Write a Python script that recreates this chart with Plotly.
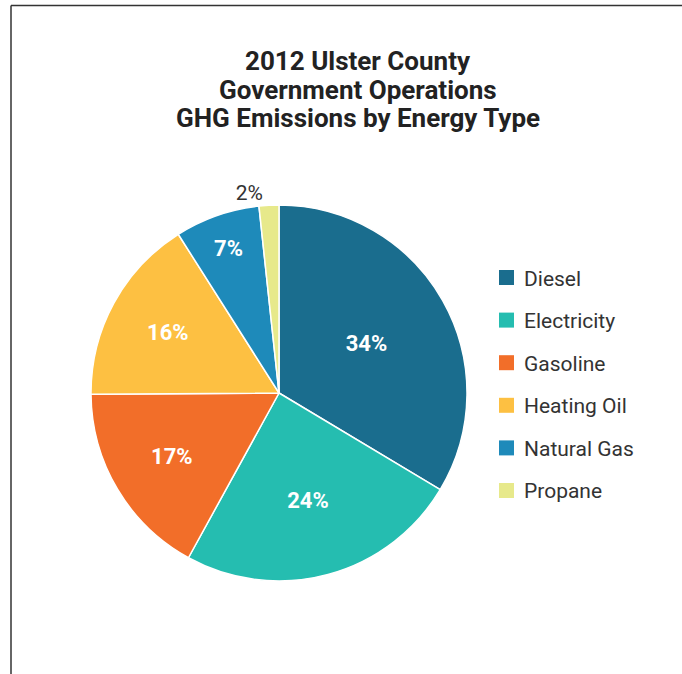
import plotly.graph_objects as go

W, H = 682, 674

labels = ["Diesel", "Electricity", "Gasoline", "Heating Oil", "Natural Gas", "Propane"]
values = [33.6, 24.4, 16.9, 16.1, 7.3, 1.7]
colors = ["#1a6d8e", "#25bdb0", "#f26e29", "#fdc042", "#1e8aba", "#e7e98b"]
text_pos = ["inside", "inside", "inside", "inside", "inside", "outside"]
title_lines = ["2012 Ulster County", "Government Operations", "GHG Emissions by Energy Type"]

FONT = "Roboto, 'DejaVu Sans', sans-serif"

# pie geometry in pixels
cx, cy, r = 279, 393, 188


def px(x):
    return x / W


def py(y):
    return 1 - y / H


fig = go.Figure()
fig.add_trace(go.Pie(
    labels=labels,
    values=values,
    sort=False,
    direction="clockwise",
    rotation=0,
    marker=dict(colors=colors, line=dict(color="white", width=1.5)),
    textinfo="percent",
    texttemplate="%{percent:.0%}",
    textposition=text_pos,
    insidetextorientation="horizontal",
    insidetextfont=dict(family=FONT, size=22, color="white", weight="bold"),
    outsidetextfont=dict(family=FONT, size=21, color="#333333"),
    hoverinfo="label+percent",
    showlegend=False,
    domain=dict(x=[px(cx - r), px(cx + r)], y=[py(cy + r), py(cy - r)]),
))

shapes = []
annotations = []

# frame lines (top and left)
shapes.append(dict(type="line", xref="paper", yref="paper",
                   x0=px(11), x1=1.0, y0=py(5.5), y1=py(5.5),
                   line=dict(color="#333333", width=1.5)))
shapes.append(dict(type="line", xref="paper", yref="paper",
                   x0=px(11), x1=px(11), y0=py(5.5), y1=0,
                   line=dict(color="#333333", width=1.5)))

# title
for i, line in enumerate(title_lines):
    annotations.append(dict(
        text=f"<b>{line}</b>", xref="paper", yref="paper",
        x=px(357.5), y=py(61 + 28.5 * i), xanchor="center", yanchor="middle",
        showarrow=False, font=dict(family=FONT, size=26, color="#222222"),
    ))

# legend (manual)
lx, ly0, dy, sq = 499, 277.5, 42.6, 15
for i, (lab, col) in enumerate(zip(labels, colors)):
    yc = ly0 + dy * i
    shapes.append(dict(type="rect", xref="paper", yref="paper",
                       x0=px(lx), x1=px(lx + sq),
                       y0=py(yc + sq / 2), y1=py(yc - sq / 2),
                       fillcolor=col, line=dict(width=0)))
    annotations.append(dict(
        text=lab, xref="paper", yref="paper",
        x=px(lx + sq + 8), y=py(yc + 1), xanchor="left", yanchor="middle",
        showarrow=False, font=dict(family=FONT, size=21, color="#333333"),
    ))

fig.update_layout(
    width=W, height=H,
    margin=dict(l=0, r=0, t=0, b=0),
    paper_bgcolor="white",
    plot_bgcolor="white",
    shapes=shapes,
    annotations=annotations,
)

fig.write_html(
    "out.html",
    config={"displayModeBar": False},
    post_script="document.body.style.margin='0';document.body.style.overflow='hidden';",
)
